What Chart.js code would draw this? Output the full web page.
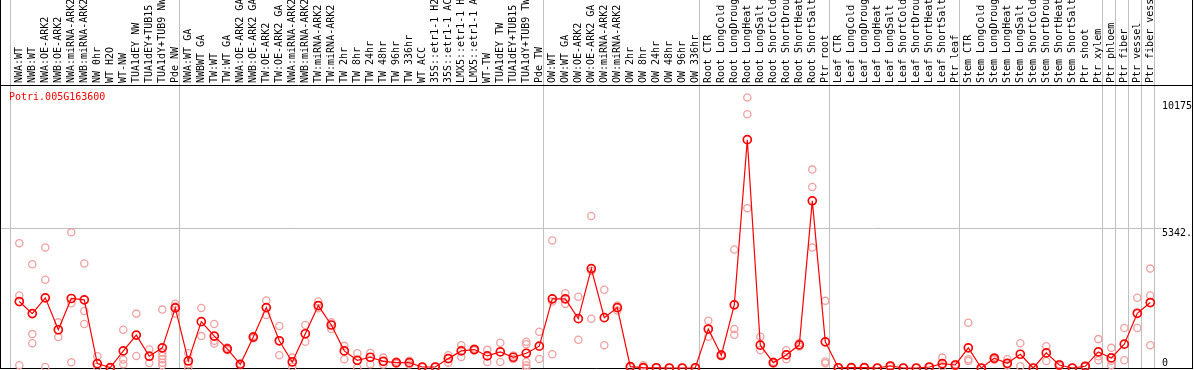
<!DOCTYPE html>
<html><head><meta charset="utf-8">
<script src="https://cdn.jsdelivr.net/npm/chart.js@4/dist/chart.umd.min.js"></script>
<style>html,body{margin:0;padding:0;background:#fff;}#wrap{width:1194px;height:370px;position:relative;}</style>
</head><body><div id="wrap"><canvas id="c"></canvas></div>
<script>
const geneId = 'Potri.005G163600';
const categories = [
 'NWA:WT','NWB:WT','NWA:OE-ARK2','NWB:OE-ARK2','NWA:miRNA-ARK2','NWB:miRNA-ARK2','NW 0hr','WT H2O','WT-NW','TUA1dEY NW','TUA1dEY+TUB15 NW','TUA1dY+TUB9 NW','Pde NW',
 'NWA:WT GA','NWBWT GA','TW:WT','TW:WT GA','NWA:OE-ARK2 GA','NWB:OE-ARK2 GA','TW:OE-ARK2','TW:OE-ARK2 GA','NWA:miRNA-ARK2 GA','NWB:miRNA-ARK2 GA','TW:miRNA-ARK2','TW:miRNA-ARK2 GA','TW 2hr','TW 8hr','TW 24hr','TW 48hr','TW 96hr','TW 336hr','WT ACC','35S::etr1-1 H2O','35S::etr1-1 ACC','LMX5::etr1-1 H2O','LMX5::etr1-1 ACC','WT-TW','TUA1dEY TW','TUA1dEY+TUB15 TW','TUA1dY+TUB9 TW','Pde TW',
 'OW:WT','OW:WT GA','OW:OE-ARK2','OW:OE-ARK2 GA','OW:miRNA-ARK2','OW:miRNA-ARK2 GA','OW 2hr','OW 8hr','OW 24hr','OW 48hr','OW 96hr','OW 336hr',
 'Root CTR','Root LongCold','Root LongDrought','Root LongHeat','Root LongSalt','Root ShortCold','Root ShortDrought','Root ShortHeat','Root ShortSalt','Ptr root',
 'Leaf CTR','Leaf LongCold','Leaf LongDrought','Leaf LongHeat','Leaf LongSalt','Leaf ShortCold','Leaf ShortDrought','Leaf ShortHeat','Leaf ShortSalt','Ptr leaf',
 'Stem CTR','Stem LongCold','Stem LongDrought','Stem LongHeat','Stem LongSalt','Stem ShortCold','Stem ShortDrought','Stem ShortHeat','Stem ShortSalt','Ptr shoot','Ptr xylem',
 'Ptr phloem','Ptr fiber','Ptr vessel','Ptr fiber vessel'
];
const means = [
 2536,2075,2678,1460,2652,2601,166,13,653,1256,450,769,2293,
 269,1768,1217,730,141,1179,2306,1038,231,1307,2383,1641,653,294,410,256,205,205,38,38,358,653,704,461,615,410,563,833,
 2639,2639,1883,3793,1922,2306,50,13,10,0,0,10,
 1487,488,2409,8712,871,205,500,884,6379,999,
 10,15,15,0,77,0,0,38,166,115,
 769,0,371,180,525,0,576,115,0,65,615,
 384,909,2088,2498
];
const replicates = [
 [4765,2767,104],[3958,1294,948],[4599,3370,38],[1742,1179],[5176,2471,219],[3985,2179,1679],[450,50],[25,5],[1460,320,141],[2075,461],[704,192],[2229,588,461,333,205,104],[2450,2350,2080],
 [563,141,13],[2293,1217],[1679,1038,934],[780,680],[160,120],[1220,1140],[2575,2025],[1602,488],[396,50],[1641,999],[2536,2280],[1742,1487],[845,333],[563,13],[576,141],[396,130],[250,160],[280,130],[40,35],[40,35],[488,205],[871,423],[740,670],[692,231],[961,231],[480,340],[999,910,231,104,13],[1383,346],
 [4869,2536,525],[2856,2447],[2716,1076],[5803,3700,1880],[2986,871],[2383,2190],[60,40],[104,0],[15,5],[0,0],[0,0],[15,5],
 [1806,1191],[520,450],[4523,1487,1268],[10326,9684,6099],[1191,679],[240,170],[679,333],[950,820],[7571,6905,4599],[2562,250,180],
 [15,5],[20,10],[20,10],[0,0],[100,50],[0,0],[0,0],[50,25],[396,65],[150,80],
 [1729,333,269],[0,0],[420,320],[333,104],[948,65],[0,0],[833,269],[150,80],[0,0],[80,50],[1102,450,294],
 [769,280,104],[1524,294],[2678,1524],[3793,2767,871]
];
const groupStarts = [0,13,41,53,63,73,84,85,86,87,88];
const yTickValues = [0,5342,10175];
const yTickLabels = ['0','5342.','10175'];

// layout / style parameters
const FONT = {family:'"DejaVu Sans Mono", "Liberation Mono", monospace', size:10};
const PX_PER_CAT = 13, FIRST_PX = 19.3, AREA_W = 1192, SEP_OFF = 0.64;
const XMIN = -FIRST_PX / PX_PER_CAT, XMAX = XMIN + AREA_W / PX_PER_CAT;
const YMAX = 10799;
const isSep = v => !Number.isInteger(v) && v !== XMIN && v !== XMAX;

const meanData = means.map((v, i) => ({x: i, y: v}));
const repData = [];
replicates.forEach((arr, i) => arr.forEach(v => repData.push({x: i, y: v})));

const geneTitle = {
 id: 'geneTitle',
 afterDraw(chart) {
  const {ctx, chartArea} = chart;
  ctx.save();
  ctx.font = '10px ' + FONT.family;
  ctx.fillStyle = '#ff0000';
  ctx.textAlign = 'left';
  ctx.textBaseline = 'middle';
  ctx.fillText(geneId, chartArea.left + 9, chartArea.top + 12.5);
  ctx.restore();
 }
};

new Chart(document.getElementById('c'), {
 type: 'line',
 data: {datasets: [
  {label: geneId, data: meanData, xAxisID: 'x', yAxisID: 'y', borderColor: '#ff0000', borderWidth: 1.2,
   pointRadius: 4, pointBorderWidth: 1.7, pointBorderColor: '#ff0000', pointBackgroundColor: 'rgba(0,0,0,0)', tension: 0, clip: false},
  {label: 'replicates', type: 'scatter', data: repData, xAxisID: 'x', yAxisID: 'y', showLine: false,
   pointRadius: 3.6, pointBorderWidth: 1.3, borderColor: '#f0a0a0', backgroundColor: 'rgba(0,0,0,0)', clip: false}
 ]},
 options: {
  responsive: true, maintainAspectRatio: false, animation: false, devicePixelRatio: 1,
  layout: {autoPadding: false, padding: {left: 0, right: 2, top: 0, bottom: 2}},
  plugins: {tooltip: {enabled: false}, legend: {display: false}},
  scales: {
   x: {type: 'linear', position: 'top', min: XMIN, max: XMAX, bounds: 'data',
    afterBuildTicks: s => {
     const t = [{value: XMIN}];
     categories.forEach((_, i) => t.push({value: i}));
     groupStarts.forEach(g => t.push({value: g - SEP_OFF}));
     t.push({value: XMAX});
     s.ticks = t;
    },
    afterFit: s => { s.height = 85; },
    ticks: {autoSkip: false, minRotation: 90, maxRotation: 90, padding: -83, labelOffset: 12, color: '#000', font: FONT,
     callback: v => Number.isInteger(v) ? categories[v] : ''},
    grid: {tickLength: 85, lineWidth: 1,
     color: c => { const v = c.tick ? c.tick.value : null; if (v === XMIN || v === XMAX) return '#000'; return isSep(v) ? '#c0c0c0' : 'rgba(0,0,0,0)'; }},
    border: {display: true, color: '#000', width: 1}
   },
   y: {type: 'linear', position: 'left', min: 0, max: YMAX,
    afterBuildTicks: s => { s.ticks = yTickValues.map(v => ({value: v})); },
    ticks: {display: false},
    grid: {drawTicks: false, lineWidth: 1,
     color: c => { const v = c.tick ? c.tick.value : null; if (v === 0) return '#000'; if (v === 5342) return '#c0c0c0'; return 'rgba(0,0,0,0)'; }},
    border: {display: true, color: '#000', width: 1,
     dash: c => (c.tick && c.tick.value === 5342) ? [1162, 100] : []}
   },
   yR: {type: 'linear', position: 'right', min: 0, max: YMAX,
    afterBuildTicks: s => { s.ticks = yTickValues.map(v => ({value: v})); },
    ticks: {mirror: true, padding: 0, crossAlign: 'far', align: 'end', color: '#000', font: Object.assign({}, FONT, {lineHeight: '10px'}),
     callback: v => { const k = yTickValues.indexOf(v); const s = yTickLabels[k]; return v === 0 ? s : ['', '', s]; }},
    grid: {display: false, drawTicks: false},
    border: {display: true, color: '#000', width: 1}
   }
  }
 },
 plugins: [geneTitle]
});
</script>
</body></html>
